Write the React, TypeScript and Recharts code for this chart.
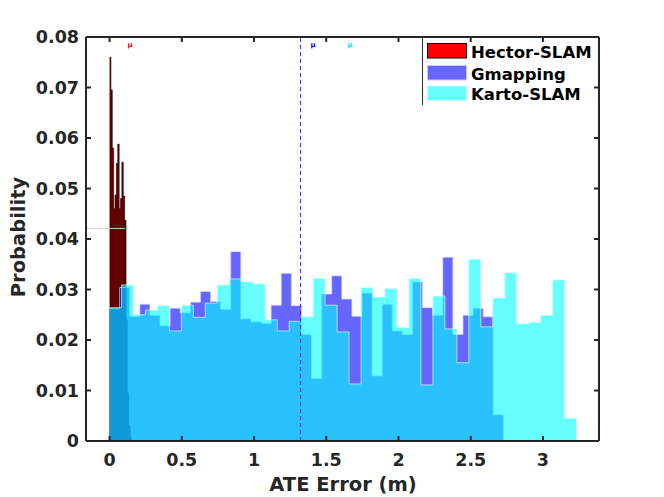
import React from 'react';
import { ComposedChart, Area, XAxis, YAxis, ReferenceLine } from 'recharts';

// histogram bins (probability per bin)
const hectorBinWidth = 0.0095;
const hectorValues = [
  0.076, 0.0695, 0.058, 0.046, 0.0487, 0.055, 0.0588, 0.046,
  0.048, 0.0552, 0.0485, 0.0437, 0.024, 0.0095, 0.003, 0.0008,
];

const gmappingBinWidth = 0.0699;
const gmappingValues = [
  0.0262, 0.0304, 0.0247, 0.0271, 0.0249, 0.0228, 0.0263, 0.0254, 0.0275, 0.0296,
  0.0276, 0.0261, 0.0375, 0.0242, 0.0236, 0.0233, 0.0269, 0.0332, 0.0268, 0.0211,
  0.0124, 0.0291, 0.0327, 0.0281, 0.0247, 0.0293, 0.0129, 0.0271, 0.0218, 0.0211,
  0.0315, 0.0264, 0.0249, 0.0364, 0.0211, 0.0249, 0.0263, 0.0246, 0.0052,
];

const kartoBinWidth = 0.0829;
const kartoValues = [
  0.0264, 0.0309, 0.025, 0.0259, 0.0268, 0.0218, 0.0269, 0.0245, 0.0273, 0.0309,
  0.0321, 0.0315, 0.0311, 0.024, 0.0218, 0.0237, 0.0246, 0.0322, 0.0269, 0.0216,
  0.0113, 0.0304, 0.0285, 0.0302, 0.0225, 0.0322, 0.0111, 0.0287, 0.0222, 0.0155,
  0.036, 0.0226, 0.0283, 0.0333, 0.0232, 0.0235, 0.0249, 0.0319, 0.0045,
];

const gmappingMean = 1.322;

const xTicks = [0, 0.5, 1, 1.5, 2, 2.5, 3];
const yTicks = [0, 0.01, 0.02, 0.03, 0.04, 0.05, 0.06, 0.07, 0.08];
const xDomain: [number, number] = [-0.163, 3.388];
const yDomain: [number, number] = [0, 0.08];

const legendItems = [
  { name: 'Hector-SLAM', fill: '#ff0000', border: '#000000' },
  { name: 'Gmapping', fill: '#6666ff', border: '#c8c8ff' },
  { name: 'Karto-SLAM', fill: '#66ffff', border: '#c8ffff' },
];

const toSteps = (values: number[], width: number) => [
  ...values.map((p, i) => ({ x: i * width, p })),
  { x: values.length * width, p: 0 },
];

const font = '"DejaVu Sans", sans-serif';
const ink = '#262626';

const tickStyle = { fill: ink, fontSize: 17.5, fontWeight: 'bold', fontFamily: font };
const axisLine = { stroke: ink, strokeWidth: 2 };
const noTick = () => <g />;

export default function App() {
  return (
    <div style={{ position: 'absolute', left: 0, top: 0, width: 664, height: 497, background: '#fff' }}>
      <ComposedChart width={664} height={497} margin={{ top: 36, right: 64, bottom: 26, left: 8 }}>
        <XAxis
          type="number"
          dataKey="x"
          domain={xDomain}
          allowDataOverflow
          ticks={xTicks}
          interval={0}
          height={30}
          tickSize={-5}
          tickMargin={18}
          axisLine={axisLine}
          tickLine={axisLine}
          tick={tickStyle}
        />
        <XAxis
          xAxisId="top"
          orientation="top"
          type="number"
          dataKey="x"
          domain={xDomain}
          allowDataOverflow
          ticks={xTicks}
          interval={0}
          height={1}
          tickSize={-5}
          axisLine={axisLine}
          tickLine={axisLine}
          tick={noTick}
        />
        <YAxis
          type="number"
          domain={yDomain}
          allowDataOverflow
          ticks={yTicks}
          interval={0}
          width={78}
          tickSize={-5}
          tickMargin={12}
          axisLine={axisLine}
          tickLine={axisLine}
          tick={tickStyle}
          tickFormatter={(v: number) => String(v)}
        />
        <YAxis
          yAxisId="right"
          orientation="right"
          type="number"
          domain={yDomain}
          allowDataOverflow
          ticks={yTicks}
          interval={0}
          width={1}
          tickSize={-5}
          axisLine={axisLine}
          tickLine={axisLine}
          tick={noTick}
        />
        <Area
          type="stepAfter"
          data={toSteps(hectorValues, hectorBinWidth)}
          dataKey="p"
          fill="#620000"
          fillOpacity={1}
          stroke="#150000"
          strokeWidth={0.6}
          isAnimationActive={false}
        />
        <Area
          type="stepAfter"
          data={toSteps(gmappingValues, gmappingBinWidth)}
          dataKey="p"
          fill="#0000ff"
          fillOpacity={0.6}
          stroke="#d6d6ff"
          strokeOpacity={0.7}
          strokeWidth={1}
          isAnimationActive={false}
        />
        <Area
          type="stepAfter"
          data={toSteps(kartoValues, kartoBinWidth)}
          dataKey="p"
          fill="#00ffff"
          fillOpacity={0.6}
          stroke="#d6ffff"
          strokeOpacity={0.7}
          strokeWidth={1}
          isAnimationActive={false}
        />
        <ReferenceLine
          segment={[{ x: xDomain[0], y: 0.0421 }, { x: 0.107, y: 0.0421 }]}
          stroke="#cfcfcf"
          strokeWidth={1}
        />
        <ReferenceLine x={gmappingMean} stroke="#2a2aff" strokeWidth={1} strokeDasharray="4 3" />
      </ComposedChart>

      <svg
        width={664}
        height={497}
        style={{ position: 'absolute', left: 0, top: 0, pointerEvents: 'none' }}
        fontFamily={font}
        fontWeight="bold"
      >
        <text x={343} y={491} textAnchor="middle" fontSize={19.5} fill={ink}>
          ATE Error (m)
        </text>
        <text
          x={0}
          y={0}
          transform="translate(25,237) rotate(-90)"
          textAnchor="middle"
          fontSize={19.5}
          fill={ink}
        >
          Probability
        </text>

        <text x={130} y={47} textAnchor="middle" fontSize={7} fill="#ff0000">μ</text>
        <text x={313} y={47} textAnchor="middle" fontSize={7} fill="#0000ff">μ</text>
        <text x={350} y={47} textAnchor="middle" fontSize={7} fill="#00e5ff">μ</text>

        <line x1={422.5} y1={38} x2={422.5} y2={105} stroke={ink} strokeWidth={1} />
        {legendItems.map((item, i) => {
          const top = [43.5, 65.5, 86][i];
          return (
            <g key={item.name}>
              <rect x={427.5} y={top} width={39} height={14.5} fill={item.fill} stroke={item.border} strokeWidth={1} />
              <text x={471} y={top + 14} fontSize={16.5} fill="#000">
                {item.name}
              </text>
            </g>
          );
        })}
      </svg>
    </div>
  );
}
